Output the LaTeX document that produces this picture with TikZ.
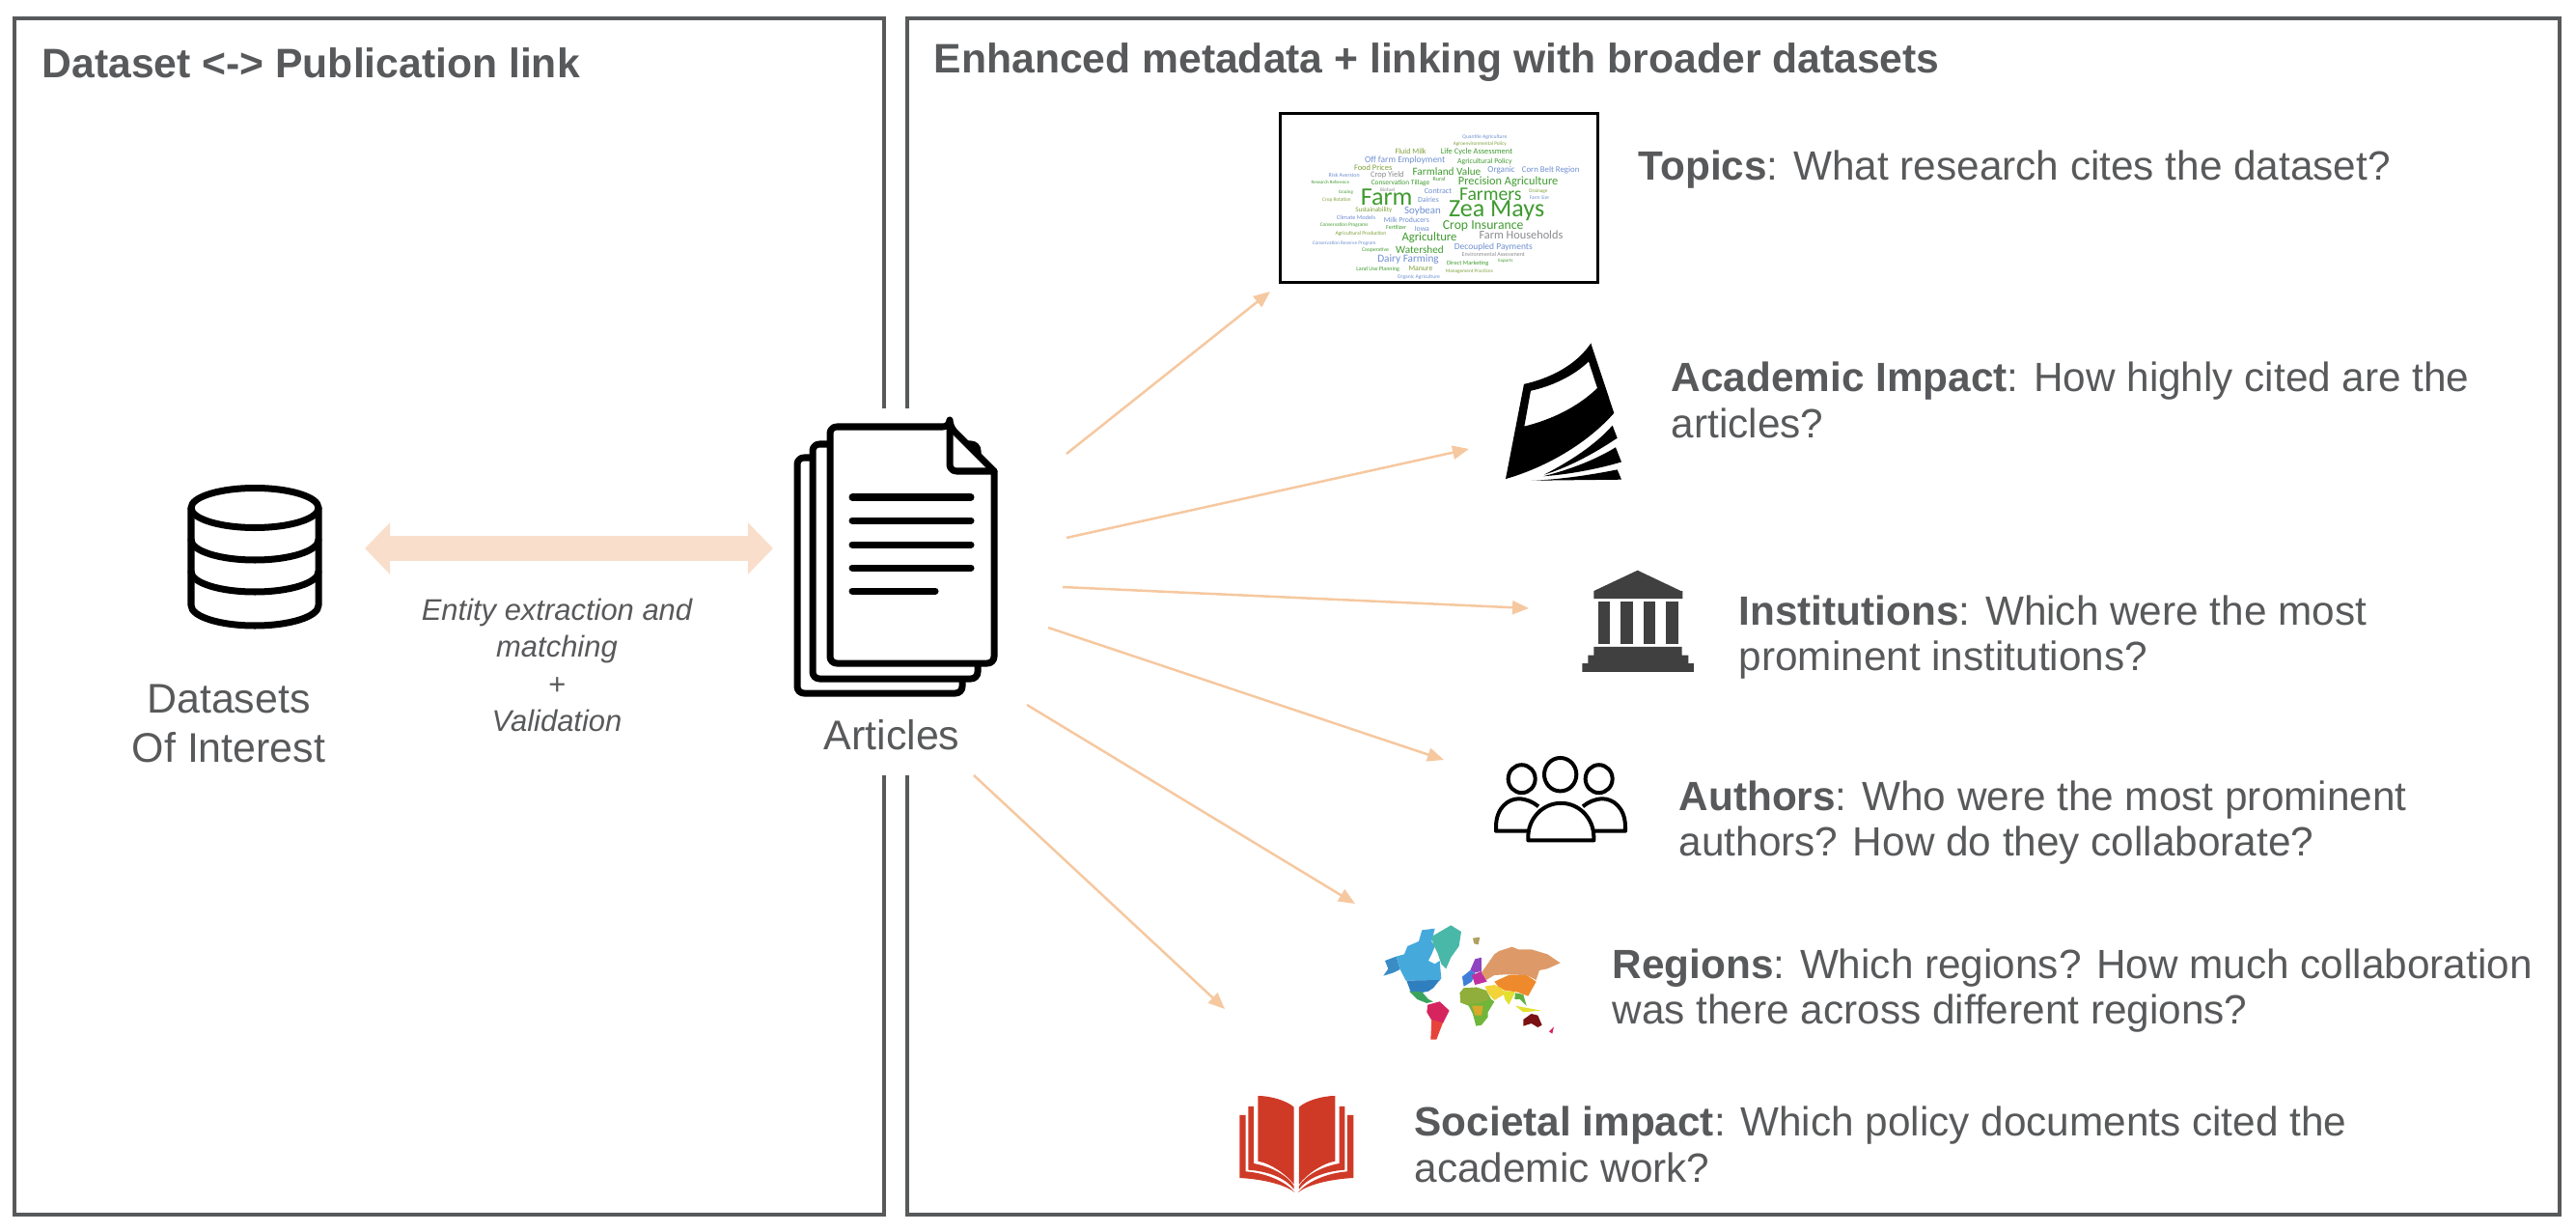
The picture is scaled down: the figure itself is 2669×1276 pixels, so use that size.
\documentclass[tikz,border=0pt]{standalone}
\usepackage{fontspec}
\setmainfont{Liberation Sans}
\newfontfamily\cloudfont{Carlito}
\usetikzlibrary{arrows.meta}
\definecolor{boxgrey}{HTML}{58595B}
\definecolor{fanorange}{HTML}{F6C8A0}
\definecolor{linkorange}{HTML}{F9DFCB}
\definecolor{templegrey}{HTML}{404041}
\definecolor{bookred}{HTML}{CF3A27}
\definecolor{cloudgreen}{HTML}{3F9A2F}
\definecolor{cloudolive}{HTML}{7F9F3A}
\definecolor{cloudblue}{HTML}{6F8FD0}
\definecolor{cloudgrey}{HTML}{8A8A8F}
\definecolor{mapalaska}{HTML}{3A8CC6}
\definecolor{mapcanada}{HTML}{45A9DC}
\definecolor{mapusa}{HTML}{2F7FBF}
\definecolor{mapgreenland}{HTML}{4AB8A8}
\definecolor{mapmexico}{HTML}{3AA45E}
\definecolor{mapbrazil}{HTML}{D6245F}
\definecolor{mapchile}{HTML}{E8433B}
\definecolor{mapnorth}{HTML}{8E44C0}
\definecolor{mapwest}{HTML}{3F7FD8}
\definecolor{mapsouth}{HTML}{C030A0}
\definecolor{maprussia}{HTML}{DD9A68}
\definecolor{mapchina}{HTML}{EF8A2C}
\definecolor{mapgulf}{HTML}{F2D43A}
\definecolor{mapindia}{HTML}{E4E030}
\definecolor{mapasia}{HTML}{5FB040}
\definecolor{mapsahara}{HTML}{8FAE3A}
\definecolor{mapafrica}{HTML}{6FB63A}
\definecolor{mapcongo}{HTML}{D8A92A}
\definecolor{mapoz}{HTML}{7A1113}
\definecolor{mapiceland}{HTML}{B0A060}
\tikzset{
panel/.style={draw=boxgrey, line width=0.04cm}, % the two big frames
label/.style={text=boxgrey, font=\fontsize{12.03}{13.6}\selectfont, inner sep=0pt, anchor=west, align=left}, % questions on the right
caption/.style={text=boxgrey, font=\fontsize{12.2}{14.5}\selectfont, inner sep=0pt, align=center}, % texts below the icons
headline/.style={text=boxgrey, font=\fontsize{12.13}{13.6}\selectfont\bfseries, inner sep=0pt, anchor=west}, % titles of the frames
fan/.style={draw=fanorange, line width=0.025cm, -{Triangle[length=0.17cm, width=0.14cm]}}, % thin arrows out of the articles
link/.style={draw=linkorange, line width=0.26cm, {Triangle[length=0.26cm, width=0.52cm]}-{Triangle[length=0.26cm, width=0.52cm]}}, % the thick double arrow
icon/.style={line width=0.07cm, line join=round, line cap=round}, % black outlines
word/.style={inner sep=0pt}, % one word of the cloud
}

\begin{document}
\begin{tikzpicture}[x=0.01cm, y=-0.01cm]
\useasboundingbox (0,0) rectangle (2669,1276);

% frames, open around the articles
\draw[panel] (916,423) -- (916,19) -- (15,19) -- (15,1258) -- (916,1258) -- (916,803);
\draw[panel] (940,423) -- (940,19) -- (2652,19) -- (2652,1258) -- (940,1258) -- (940,803);
\node[headline] (lefthead) at (43,65) {Dataset <-> Publication link};
\node[headline] (righthead) at (967,65) {Enhanced metadata + linking with broader datasets};

% datasets
\draw[icon] (264,526) ellipse [x radius=66, y radius=20.5];
\draw[icon] (198,526) -- (198,627) arc[start angle=180, end angle=0, x radius=66, y radius=21] -- (330,526);
\foreach \ylevel in {559,592}
    \draw[icon] (198,\ylevel) arc[start angle=180, end angle=0, x radius=66, y radius=21];
\node[caption] (datasets) at (237,749) {Datasets\\Of Interest};

% articles
\draw[icon, fill=white, rounded corners=0.07cm] (826,474) rectangle (997,718);
\draw[icon, fill=white, rounded corners=0.07cm] (842,460) rectangle (1013,703);
\draw[icon, fill=white] (984,442) -- (1030,488) [rounded corners=0.07cm] -- (1030,687) -- (860,687) -- (860,442) -- (984,442) -- cycle;
\draw[icon, rounded corners=0.07cm] (984,442) -- (984,488) -- (1030,488);
\foreach \yline/\xend in {515/1006,539/1006,564/1006,588/1006,612/969}
    \draw[icon] (883,\yline) -- (\xend,\yline);
\node[caption] (articles) at (924,761) {Articles};

% link between both
\coordinate (linkleft) at (378,568);
\coordinate (linkright) at (801,568);
\draw[link] (linkleft) -- (linkright);
\node[caption, font=\itshape\fontsize{8.8}{10.9}\selectfont] (linktext) at (577,689) {Entity extraction and\\matching\\+\\Validation};

% arrows to the topics
\coordinate (from1) at (1105,470);  \coordinate (to1) at (1316,302);
\coordinate (from2) at (1105,557);  \coordinate (to2) at (1522,465);
\coordinate (from3) at (1101,608);  \coordinate (to3) at (1584,630);
\coordinate (from4) at (1086,650);  \coordinate (to4) at (1496,787);
\coordinate (from5) at (1064,730);  \coordinate (to5) at (1404,936);
\coordinate (from6) at (1009,803);  \coordinate (to6) at (1269,1045);
\foreach \i in {1,...,6}
    \draw[fan] (from\i) -- (to\i);

% word cloud
\node[draw=black, line width=0.03cm, minimum width=3.29cm, minimum height=1.75cm, inner sep=0pt] (cloud) at (1491,205) {};
\begin{scope}[shift={(1280,90)}, scale=0.3333]
\foreach \wx/\wy/\wsize/\wcolor/\wtext in {
    775/155/1.6/cloudblue/Quantile Agriculture, 760/177/1.5/cloudolive/Agroenvironmental Policy,
    545/200/2.3/cloudolive/Fluid Milk, 750/201/2.4/cloudgreen/Life Cycle Assessment,
    527/228/2.7/cloudblue/Off farm Employment, 775/231/2.2/cloudgreen/Agricultural Policy,
    428/252/2.4/cloudolive/Food Prices, 657/262/3.2/cloudgreen/Farmland Value, 827/259/2.6/cloudblue/Organic, 980/258/2.5/cloudblue/Corn Belt Region,
    338/273/1.7/cloudblue/Risk Aversion, 472/275/2.4/cloudgrey/Crop Yield, 633/285/1.7/cloudgreen/Rural, 848/295/3.5/cloudgreen/Precision Agriculture,
    295/295/1.4/cloudgreen/Research Reference, 513/298/2.1/cloudgreen/Conservation Tillage,
    473/320/1.5/cloudgrey/Biofuel, 630/325/2.3/cloudblue/Contract, 793/335/5.6/cloudgreen/Farmers, 942/324/1.5/cloudolive/Drainage,
    470/343/7.4/cloudgreen/Farm, 945/343/1.5/cloudblue/Farm Size, 343/328/1.4/cloudgreen/Grazing,
    315/352/1.5/cloudolive/Crop Rotation, 600/352/2.2/cloudblue/Dairies, 812/385/7.4/cloudgreen/Zea Mays,
    430/383/2/cloudolive/Sustainability, 582/385/3.1/cloudblue/Soybean, 375/406/1.8/cloudblue/Climate Models, 532/414/2.2/cloudblue/Milk Producers,
    338/428/1.5/cloudgreen/Conservation Programs, 500/437/1.7/cloudgreen/Fertilizer, 580/440/2.2/cloudblue/Iowa, 770/432/3.9/cloudgreen/Crop Insurance,
    390/457/1.6/cloudolive/Agricultural Production, 603/470/3.6/cloudgreen/Agriculture, 888/461/3.5/cloudgrey/Farm Households,
    338/486/1.5/cloudblue/Conservation Reserve Program, 435/507/1.6/cloudgreen/Cooperative, 573/507/3.2/cloudgreen/Watershed, 802/498/2.7/cloudblue/Decoupled Payments,
    802/521/1.7/cloudgrey/Environmental Assessment, 840/541/1.4/cloudgreen/Exports, 537/537/3.2/cloudblue/Dairy Farming, 722/548/1.8/cloudgreen/Direct Marketing,
    576/563/2.2/cloudolive/Manure, 443/567/1.7/cloudgreen/Land Use Planning, 727/573/1.5/cloudolive/Management Practices, 570/590/1.6/cloudblue/Organic Agriculture}
    \node[word, text=\wcolor, font=\cloudfont\fontsize{\wsize}{\wsize}\selectfont] at (\wx,\wy) {\wtext};
\end{scope}
\node[label] (topics) at (1697,176) {\textbf{Topics}: What research cites the dataset?};

% academic impact
\begin{scope}[shift={(1500,340)}, xscale=0.3333, yscale=0.3444]
\fill[black, even odd rule] (180,453) -- (237,168) .. controls (320,150) and (400,110) .. (445,45) -- (517,255) .. controls (430,350) and (300,420) .. (180,453) -- cycle
    (258,188) -- (238,295) .. controls (320,275) and (400,240) .. (465,180) -- (438,100) .. controls (390,145) and (320,175) .. (258,188) -- cycle;
\fill[black] (300,440) .. controls (380,400) and (460,350) .. (512,292) -- (527,330) .. controls (450,380) and (370,420) .. (300,440) -- cycle;
\fill[black] (297,445) .. controls (380,425) and (460,395) .. (522,358) -- (540,402) .. controls (460,425) and (370,440) .. (297,445) -- cycle;
\fill[black] (260,458) .. controls (350,455) and (450,440) .. (527,425) -- (540,455) -- cycle;
\end{scope}
\node[label] (impact) at (1731,414) {\textbf{Academic Impact}: How highly cited are the\\articles?};

% institutions
\begin{scope}[shift={(1500,340)}, xscale=0.3333, yscale=0.3444]
\fill[templegrey] (590,728) -- (725,790) -- (730,790) -- (730,813) -- (454,813) -- (454,790) -- cycle;
\foreach \xcol in {467,537,608,678}
    \fill[templegrey] (\xcol,822) rectangle ++(38,128);
\fill[templegrey] (454,958) -- (728,958) -- (728,983) -- (748,983) -- (748,1008) -- (765,1008) -- (765,1033) -- (418,1033) -- (418,1008) -- (436,1008) -- (436,983) -- (454,983) -- cycle;
\end{scope}
\node[label] (institutions) at (1801,660) {\textbf{Institutions}: Which were the most\\prominent institutions?};

% authors
\begin{scope}[shift={(1500,340)}, xscale=0.3333, yscale=0.3444, line width=0.04cm, line join=round]
\draw (350,1342) circle[radius=50];
\draw (230,1355) circle[radius=42];
\draw (470,1355) circle[radius=42];
\draw (250,1540) -- (250,1530) arc[start angle=180, end angle=360, radius=102] -- (454,1540) -- cycle;
\draw (248,1512) -- (150,1512) -- (150,1500) .. controls (150,1440) and (190,1415) .. (220,1415) .. controls (245,1415) and (265,1425) .. (282,1438);
\draw (456,1512) -- (552,1512) -- (552,1500) .. controls (552,1440) and (512,1415) .. (482,1415) .. controls (457,1415) and (437,1425) .. (420,1438);
\end{scope}
\node[label] (authors) at (1739,852) {\textbf{Authors}: Who were the most prominent\\authors? How do they collaborate?};

% regions
\begin{scope}[shift={(1220,920)}, scale=0.3333]
\fill[mapalaska] (645,225) -- (680,212) -- (692,252) -- (672,262) -- (640,272) -- (655,250) -- cycle;
\fill[mapcanada] (680,212) -- (705,205) -- (715,180) -- (750,165) -- (760,130) -- (800,125) -- (790,165) -- (800,180) -- (790,205) -- (780,225) -- (800,235) -- (815,225) -- (820,280) -- (815,287) -- (710,287) -- (692,252) -- cycle;
\fill[mapusa] (712,287) -- (815,285) -- (795,310) -- (780,320) -- (755,325) -- (725,322) -- cycle;
\fill[mapgreenland] (790,150) -- (850,115) -- (882,135) -- (875,180) -- (850,215) -- (835,250) -- (820,235) -- (808,200) -- (795,175) -- cycle;
\fill[mapmexico] (720,320) -- (760,322) -- (780,345) -- (795,352) -- (775,357) -- (745,345) -- cycle;
\fill[mapbrazil] (778,362) -- (815,352) -- (845,380) -- (825,420) -- (805,415) -- (790,410) -- (775,385) -- cycle;
\fill[mapchile] (790,408) -- (825,418) -- (805,470) -- (787,470) -- cycle;
\fill[mapiceland] (918,155) -- (940,152) -- (935,175) -- (922,172) -- cycle;
\fill[mapwest] (885,275) -- (910,255) -- (925,262) -- (915,290) -- (890,305) -- cycle;
\fill[mapnorth] (910,255) -- (925,220) -- (945,215) -- (945,258) -- (925,262) -- cycle;
\fill[mapsouth] (915,270) -- (945,258) -- (962,290) -- (925,300) -- cycle;
\fill[maprussia] (945,262) -- (985,205) -- (1000,195) -- (1040,182) -- (1060,190) -- (1100,190) -- (1150,205) -- (1190,232) -- (1150,250) -- (1125,255) -- (1115,285) -- (1085,270) -- (1020,268) -- (985,270) -- (960,285) -- cycle;
\fill[mapchina] (985,290) -- (1030,270) -- (1085,270) -- (1115,290) -- (1090,335) -- (1055,322) -- (1020,318) -- (1000,310) -- cycle;
\fill[mapgulf] (955,305) -- (985,300) -- (1010,312) -- (1015,330) -- (985,348) -- (968,330) -- cycle;
\fill[mapindia] (1010,318) -- (1050,322) -- (1030,362) -- (1018,345) -- cycle;
\fill[mapasia] (1050,325) -- (1075,330) -- (1085,365) -- (1065,345) -- (1048,345) -- cycle;
\fill[mapindia] (1050,365) -- (1130,380) -- (1075,385) -- cycle;
\fill[mapafrica] (878,325) -- (890,310) -- (930,308) -- (960,318) -- (975,345) -- (985,352) -- (965,385) -- (965,400) -- (945,425) -- (928,428) -- (918,390) -- (905,365) -- (880,355) -- cycle;
\fill[mapsahara] (878,325) -- (890,310) -- (930,308) -- (960,318) -- (970,345) -- (945,355) -- (905,362) -- (880,355) -- cycle;
\fill[mapcongo] (915,365) -- (950,365) -- (945,395) -- (925,395) -- cycle;
\fill[mapoz] (1075,408) -- (1100,390) -- (1120,395) -- (1133,425) -- (1120,432) -- (1100,420) -- (1075,428) -- cycle;
\fill[mapbrazil] (1155,445) -- (1170,430) -- (1165,452) -- cycle;
\end{scope}
\node[label] (regions) at (1670,1026) {\textbf{Regions}: Which regions? How much collaboration\\was there across different regions?};

% societal impact
\begin{scope}[shift={(1343.3,920)}, scale=0.3333]
\foreach \side in {1,-1} {
    \begin{scope}[xscale=\side]
    \fill[bookred] (120,645) .. controls (80,645) and (30,660) .. (8,680) -- (8,920) .. controls (30,890) and (80,855) .. (120,848) -- cycle;
    \fill[bookred] (150,678) -- (133,678) -- (133,855) .. controls (80,865) and (30,890) .. (8,925) -- (8,935) .. controls (30,905) and (80,880) .. (150,875) -- cycle;
    \fill[bookred] (177,705) -- (158,705) -- (158,880) .. controls (90,885) and (30,915) .. (5,945) .. controls (30,925) and (90,905) .. (177,900) -- cycle;
    \end{scope}
}
\end{scope}
\node[label] (societal) at (1465,1185) {\textbf{Societal impact}: Which policy documents cited the\\academic work?};
\end{tikzpicture}
\end{document}
